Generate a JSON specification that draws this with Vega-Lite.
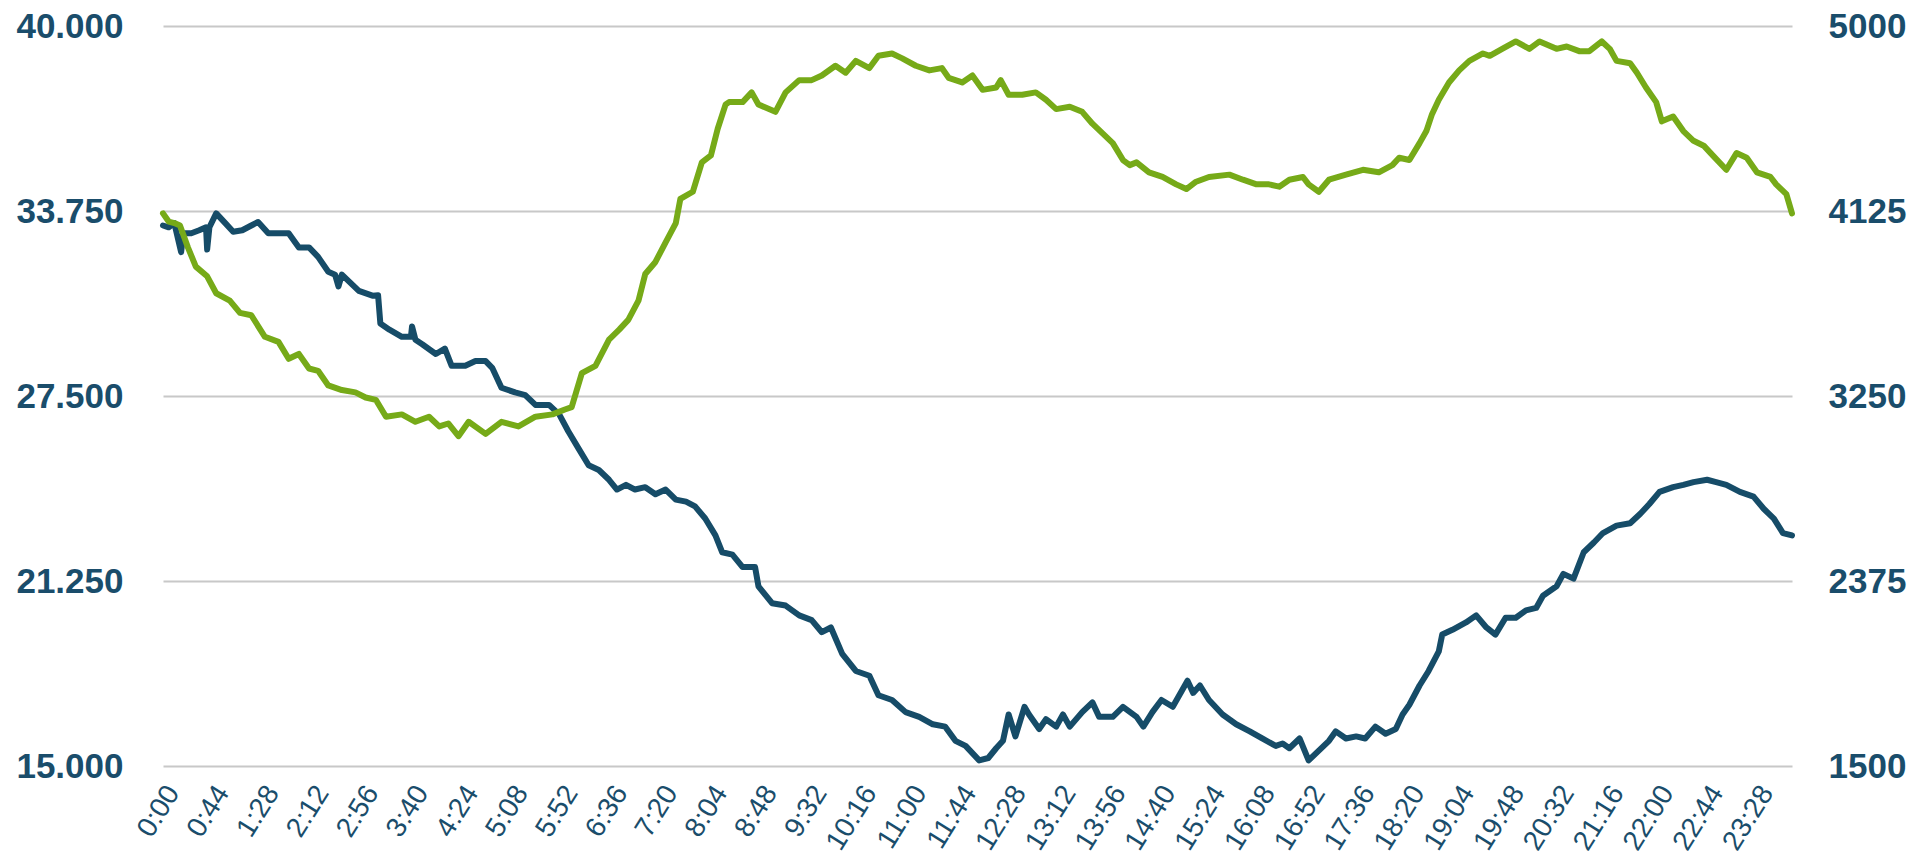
{
  "$schema": "https://vega.github.io/schema/vega-lite/v6.json",
  "width": 1629,
  "height": 740,
  "autosize": {"type": "none"},
  "padding": {"left": 163, "top": 26, "right": 127, "bottom": 96},
  "background": "white",
  "config": {
    "view": {"stroke": null},
    "axis": {"domain": false, "ticks": false, "tickSize": 0, "labelFont": "Liberation Sans", "labelColor": "#1a4d6b", "titleFont": "Liberation Sans"}
  },
  "datasets": {
    "blue": [
      {"m":0,"v":33.26},{"m":5,"v":33.2},{"m":10,"v":33.34},{"m":16,"v":32.36},{"m":18,"v":33.0},{"m":25,"v":33.0},{"m":32,"v":33.1},{"m":38,"v":33.2},{"m":39,"v":32.45},{"m":41,"v":33.2},{"m":47,"v":33.67},{"m":55,"v":33.34},{"m":62,"v":33.05},{"m":70,"v":33.1},{"m":78,"v":33.26},{"m":84,"v":33.38},{"m":93,"v":33.0},{"m":102,"v":33.0},{"m":111,"v":33.0},{"m":120,"v":32.52},{"m":129,"v":32.52},{"m":137,"v":32.2},{"m":146,"v":31.7},{"m":152,"v":31.6},{"m":155,"v":31.2},{"m":158,"v":31.6},{"m":164,"v":31.38},{"m":173,"v":31.05},{"m":185,"v":30.89},{"m":190,"v":30.9},{"m":192,"v":29.95},{"m":200,"v":29.74},{"m":211,"v":29.5},{"m":219,"v":29.5},{"m":220,"v":29.85},{"m":223,"v":29.4},{"m":229,"v":29.25},{"m":241,"v":28.92},{"m":249,"v":29.1},{"m":255,"v":28.52},{"m":267,"v":28.52},{"m":276,"v":28.68},{"m":285,"v":28.68},{"m":291,"v":28.44},{"m":299,"v":27.78},{"m":311,"v":27.62},{"m":320,"v":27.53},{"m":329,"v":27.2},{"m":341,"v":27.2},{"m":350,"v":26.88},{"m":358,"v":26.31},{"m":367,"v":25.73},{"m":376,"v":25.16},{"m":385,"v":25.0},{"m":394,"v":24.67},{"m":401,"v":24.34},{"m":409,"v":24.5},{"m":417,"v":24.34},{"m":426,"v":24.42},{"m":435,"v":24.18},{"m":444,"v":24.34},{"m":453,"v":24.0},{"m":462,"v":23.93},{"m":470,"v":23.77},{"m":479,"v":23.36},{"m":488,"v":22.79},{"m":494,"v":22.22},{"m":503,"v":22.14},{"m":512,"v":21.72},{"m":523,"v":21.72},{"m":526,"v":21.07},{"m":538,"v":20.5},{"m":550,"v":20.42},{"m":562,"v":20.09},{"m":573,"v":19.93},{"m":582,"v":19.52},{"m":590,"v":19.68},{"m":600,"v":18.79},{"m":612,"v":18.21},{"m":624,"v":18.05},{"m":632,"v":17.39},{"m":644,"v":17.23},{"m":656,"v":16.82},{"m":668,"v":16.66},{"m":680,"v":16.41},{"m":691,"v":16.33},{"m":700,"v":15.85},{"m":709,"v":15.68},{"m":721,"v":15.19},{"m":729,"v":15.27},{"m":736,"v":15.6},{"m":742,"v":15.85},{"m":747,"v":16.74},{"m":753,"v":16.0},{"m":761,"v":17.0},{"m":765,"v":16.74},{"m":774,"v":16.25},{"m":780,"v":16.58},{"m":789,"v":16.33},{"m":795,"v":16.74},{"m":801,"v":16.33},{"m":812,"v":16.82},{"m":821,"v":17.15},{"m":827,"v":16.66},{"m":839,"v":16.66},{"m":848,"v":17.0},{"m":860,"v":16.66},{"m":866,"v":16.33},{"m":874,"v":16.82},{"m":882,"v":17.23},{"m":892,"v":17.0},{"m":905,"v":17.88},{"m":910,"v":17.47},{"m":916,"v":17.72},{"m":924,"v":17.23},{"m":936,"v":16.74},{"m":948,"v":16.41},{"m":960,"v":16.17},{"m":971,"v":15.93},{"m":983,"v":15.68},{"m":989,"v":15.76},{"m":995,"v":15.6},{"m":1004,"v":15.93},{"m":1012,"v":15.19},{"m":1021,"v":15.52},{"m":1030,"v":15.85},{"m":1036,"v":16.17},{"m":1045,"v":15.93},{"m":1054,"v":16.0},{"m":1062,"v":15.93},{"m":1071,"v":16.33},{"m":1080,"v":16.09},{"m":1089,"v":16.25},{"m":1095,"v":16.74},{"m":1101,"v":17.07},{"m":1110,"v":17.72},{"m":1118,"v":18.21},{"m":1127,"v":18.87},{"m":1130,"v":19.44},{"m":1139,"v":19.6},{"m":1151,"v":19.85},{"m":1160,"v":20.09},{"m":1169,"v":19.68},{"m":1177,"v":19.44},{"m":1186,"v":20.01},{"m":1195,"v":20.01},{"m":1204,"v":20.26},{"m":1213,"v":20.34},{"m":1219,"v":20.75},{"m":1231,"v":21.07},{"m":1237,"v":21.49},{"m":1246,"v":21.33},{"m":1255,"v":22.22},{"m":1264,"v":22.55},{"m":1272,"v":22.87},{"m":1284,"v":23.12},{"m":1296,"v":23.2},{"m":1305,"v":23.52},{"m":1313,"v":23.85},{"m":1322,"v":24.26},{"m":1334,"v":24.42},{"m":1343,"v":24.5},{"m":1352,"v":24.59},{"m":1364,"v":24.67},{"m":1372,"v":24.59},{"m":1381,"v":24.5},{"m":1393,"v":24.26},{"m":1405,"v":24.1},{"m":1414,"v":23.69},{"m":1423,"v":23.36},{"m":1431,"v":22.87},{"m":1439,"v":22.79}
    ],
    "green": [
      {"m":0,"v":4114},{"m":5,"v":4075},{"m":10,"v":4068},{"m":15,"v":4056},{"m":22,"v":3953},{"m":29,"v":3862},{"m":39,"v":3816},{"m":47,"v":3736},{"m":59,"v":3701},{"m":68,"v":3643},{"m":78,"v":3632},{"m":90,"v":3530},{"m":102,"v":3506},{"m":111,"v":3426},{"m":120,"v":3449},{"m":129,"v":3380},{"m":137,"v":3369},{"m":146,"v":3300},{"m":158,"v":3278},{"m":170,"v":3267},{"m":179,"v":3243},{"m":188,"v":3232},{"m":197,"v":3152},{"m":211,"v":3163},{"m":223,"v":3128},{"m":235,"v":3152},{"m":244,"v":3106},{"m":252,"v":3120},{"m":261,"v":3060},{"m":270,"v":3128},{"m":285,"v":3071},{"m":299,"v":3128},{"m":314,"v":3106},{"m":329,"v":3152},{"m":344,"v":3163},{"m":355,"v":3186},{"m":361,"v":3197},{"m":370,"v":3358},{"m":382,"v":3393},{"m":394,"v":3517},{"m":403,"v":3564},{"m":411,"v":3610},{"m":420,"v":3701},{"m":426,"v":3827},{"m":435,"v":3884},{"m":444,"v":3977},{"m":453,"v":4068},{"m":457,"v":4182},{"m":468,"v":4216},{"m":476,"v":4355},{"m":484,"v":4388},{"m":490,"v":4514},{"m":497,"v":4629},{"m":500,"v":4640},{"m":512,"v":4640},{"m":520,"v":4686},{"m":526,"v":4629},{"m":541,"v":4594},{"m":550,"v":4686},{"m":562,"v":4744},{"m":573,"v":4744},{"m":582,"v":4766},{"m":594,"v":4812},{"m":603,"v":4779},{"m":612,"v":4835},{"m":624,"v":4801},{"m":632,"v":4859},{"m":644,"v":4870},{"m":653,"v":4847},{"m":665,"v":4812},{"m":677,"v":4790},{"m":688,"v":4801},{"m":694,"v":4755},{"m":706,"v":4733},{"m":715,"v":4766},{"m":724,"v":4698},{"m":736,"v":4709},{"m":740,"v":4744},{"m":747,"v":4675},{"m":759,"v":4675},{"m":771,"v":4686},{"m":780,"v":4651},{"m":789,"v":4607},{"m":801,"v":4618},{"m":812,"v":4594},{"m":821,"v":4538},{"m":830,"v":4492},{"m":839,"v":4446},{"m":848,"v":4366},{"m":854,"v":4342},{"m":860,"v":4355},{"m":871,"v":4308},{"m":883,"v":4286},{"m":895,"v":4251},{"m":904,"v":4229},{"m":912,"v":4262},{"m":924,"v":4286},{"m":942,"v":4297},{"m":954,"v":4273},{"m":966,"v":4251},{"m":977,"v":4251},{"m":986,"v":4240},{"m":995,"v":4273},{"m":1007,"v":4286},{"m":1012,"v":4251},{"m":1021,"v":4216},{"m":1030,"v":4273},{"m":1045,"v":4297},{"m":1060,"v":4320},{"m":1074,"v":4308},{"m":1086,"v":4342},{"m":1092,"v":4377},{"m":1101,"v":4366},{"m":1110,"v":4446},{"m":1116,"v":4503},{"m":1121,"v":4583},{"m":1127,"v":4651},{"m":1136,"v":4733},{"m":1145,"v":4790},{"m":1154,"v":4835},{"m":1166,"v":4870},{"m":1172,"v":4859},{"m":1183,"v":4892},{"m":1195,"v":4927},{"m":1207,"v":4892},{"m":1216,"v":4927},{"m":1231,"v":4892},{"m":1240,"v":4903},{"m":1251,"v":4881},{"m":1260,"v":4881},{"m":1271,"v":4927},{"m":1278,"v":4892},{"m":1284,"v":4835},{"m":1296,"v":4824},{"m":1302,"v":4779},{"m":1310,"v":4709},{"m":1319,"v":4640},{"m":1324,"v":4549},{"m":1334,"v":4572},{"m":1343,"v":4503},{"m":1352,"v":4457},{"m":1361,"v":4434},{"m":1369,"v":4388},{"m":1381,"v":4320},{"m":1390,"v":4399},{"m":1399,"v":4377},{"m":1408,"v":4308},{"m":1420,"v":4286},{"m":1425,"v":4251},{"m":1434,"v":4205},{"m":1439,"v":4114}
    ]
  },
  "layer": [
    {
      "data": {"name": "blue"},
      "mark": {"type": "line", "color": "#164c68", "strokeWidth": 6, "strokeJoin": "round", "strokeCap": "round"},
      "encoding": {
        "x": {"field": "m", "type": "quantitative", "scale": {"domain": [0, 1439], "nice": false, "zero": false},
          "axis": {"title": null, "grid": false, "values": [0,44,88,132,176,220,264,308,352,396,440,484,528,572,616,660,704,748,792,836,880,924,968,1012,1056,1100,1144,1188,1232,1276,1320,1364,1408],
            "labelExpr": "floor(datum.value/60) + ':' + (datum.value % 60 < 10 ? '0' : '') + (datum.value % 60)",
            "labelAngle": -58, "labelAlign": "right", "labelBaseline": "middle", "labelFontSize": 28, "labelPadding": 22, "labelOffset": 10, "labelOverlap": false, "labelFlush": false}},
        "y": {"field": "v", "type": "quantitative", "scale": {"domain": [15, 40], "nice": false, "zero": false},
          "axis": {"title": null, "orient": "left", "values": [15, 21.25, 27.5, 33.75, 40], "format": ".3f", "labelFontSize": 35, "labelFontWeight": "bold", "labelPadding": 40, "grid": true, "gridColor": "#c8c8c8", "gridWidth": 2, "labelFlush": false}}
      }
    },
    {
      "data": {"name": "green"},
      "mark": {"type": "line", "color": "#76aa18", "strokeWidth": 6, "strokeJoin": "round", "strokeCap": "round"},
      "encoding": {
        "x": {"field": "m", "type": "quantitative"},
        "y": {"field": "v", "type": "quantitative", "scale": {"domain": [1500, 5000], "nice": false, "zero": false},
          "axis": {"title": null, "orient": "right", "values": [1500, 2375, 3250, 4125, 5000], "format": "d", "labelFontSize": 35, "labelFontWeight": "bold", "labelPadding": 36, "grid": false, "labelFlush": false}}
      }
    }
  ],
  "resolve": {"scale": {"y": "independent"}}
}
